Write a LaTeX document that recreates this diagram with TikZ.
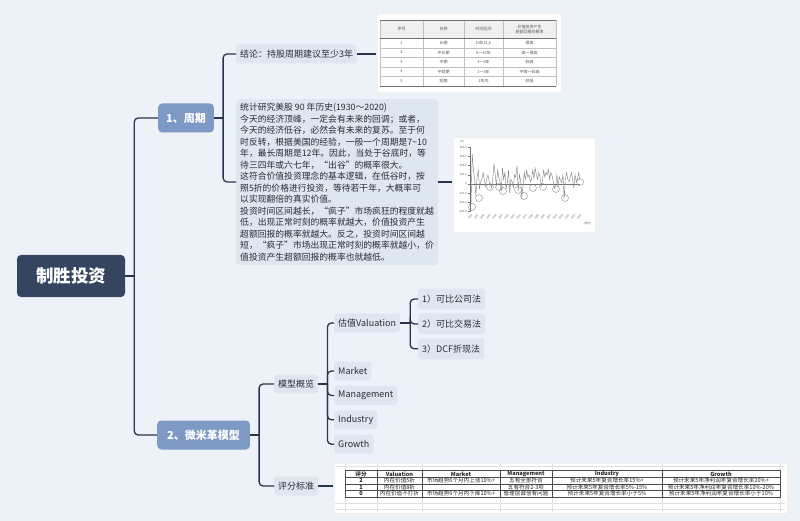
\documentclass[tikz,border=0pt]{standalone}
\usepackage{fontspec}
\setmainfont{Noto Sans CJK SC}
\usetikzlibrary{positioning}
\definecolor{bg1}{RGB}{237,242,249}
\definecolor{navy1}{RGB}{53,69,96}
\definecolor{blu2}{RGB}{125,153,196}
\definecolor{gry1}{RGB}{222,230,240}
\definecolor{ink1}{RGB}{38,44,56}
\definecolor{line1}{RGB}{38,52,77}
\tikzstyle{root} = [rectangle, rounded corners=4pt, fill=navy1, text=white,
    font=\fontsize{17.5}{20}\selectfont\bfseries, minimum width=108pt, minimum height=42pt]
\tikzstyle{topic} = [rectangle, rounded corners=4pt, fill=blu2, text=white,
    font=\fontsize{11}{13}\selectfont\bfseries, minimum height=29pt, inner xsep=8pt]
\tikzstyle{leaf} = [rectangle, rounded corners=3pt, fill=gry1, text=ink1,
    font=\fontsize{9}{11}\selectfont, minimum height=19pt, inner xsep=4pt]
\tikzstyle{imgbox} = [rectangle, rounded corners=2pt, fill=white, draw=gray!12, line width=1.5pt]
\tikzstyle{conn} = [draw=line1, line width=1.3pt, rounded corners=4pt]
\tikzstyle{grid} = [black!35, line width=0.35pt]
\tikzstyle{cell} = [font=\fontsize{4}{5}\selectfont, text=black!65, inner sep=0pt, align=center]
\tikzstyle{xcell} = [font=\fontsize{5.6}{6}\selectfont, text=black!85, inner sep=0pt]
\tikzstyle{axl} = [font=\fontsize{2.8}{3}\selectfont, text=black!60, inner sep=0.5pt]

\begin{document}
\begin{tikzpicture}[x=1pt, y=-1pt, node distance=5pt]
    \useasboundingbox (0,0) rectangle (800,521);
    \fill[bg1] (0,0) rectangle (800,521);

    \node (root) [root] at (71,276) {制胜投资};
    \node (cycle) [topic, anchor=west] at (158,118) {1、周期};
    \node (model) [topic, anchor=west, inner xsep=10pt] at (157,435) {2、微米革模型};

    % 1、周期
    \node (concl) [leaf, anchor=west] at (236,54) {结论：持股周期建议至少3年};
    \node (note) [leaf, anchor=west, align=left, font=\fontsize{8.8}{11.5}\selectfont, inner ysep=4pt] at (236,182)
        {统计研究美股 90 年历史(1930～2020)\\
        今天的经济顶峰，一定会有未来的回调；或者，\\
        今天的经济低谷，必然会有未来的复苏。至于何\\
        时反转，根据美国的经验，一般一个周期是7\textasciitilde 10\\
        年，最长周期是12年。因此，当处于谷底时，等\\
        待三四年或六七年，“出谷”的概率很大。\\
        这符合价值投资理念的基本逻辑，在低谷时，按\\
        照5折的价格进行投资，等待若干年，大概率可\\
        以实现翻倍的真实价值。\\
        投资时间区间越长，“疯子”市场疯狂的程度就越\\
        低，出现正常时刻的概率就越大，价值投资产生\\
        超额回报的概率就越大。反之，投资时间区间越\\
        短，“疯子”市场出现正常时刻的概率就越小，价\\
        值投资产生超额回报的概率也就越低。};
    \node (tabA) [imgbox, anchor=north west, minimum width=185pt, minimum height=79pt] at (376,13) {};
    \node (chart) [imgbox, anchor=north west, minimum width=143pt, minimum height=95pt] at (452,137) {};

    % 2、微米革模型
    \node (overview) [leaf, anchor=west] at (274,384) {模型概览};
    \node (score) [leaf, anchor=west] at (274,486) {评分标准};
    \node (val) [leaf, anchor=west] at (334,323) {估值Valuation};
    \node (mkt) [leaf, anchor=west] at (334,371) {Market};
    \node (mgmt) [leaf, below=5pt of mkt.south west, anchor=north west] {Management};
    \node (ind) [leaf, below=5pt of mgmt.south west, anchor=north west] {Industry};
    \node (grow) [leaf, below=5pt of ind.south west, anchor=north west] {Growth};
    \node (comp) [leaf, anchor=west, minimum height=21pt] at (418,299) {1）可比公司法};
    \node (trans) [leaf, below=3.5pt of comp.south west, anchor=north west, minimum height=21pt] {2）可比交易法};
    \node (dcf) [leaf, below=3.5pt of trans.south west, anchor=north west, minimum height=21pt] {3）DCF折现法};
    \node (tabB) [imgbox, anchor=north west, minimum width=454pt, minimum height=51pt] at (333,462) {};

    % table in 1
    \fill[gray!12] (380,20) rectangle (556,38);
    \foreach \y in {38,48,57,67,76} \draw[grid, black!25] (380,\y) -- (556,\y);
    \foreach \x in {380,423,464,503,556} \draw[grid, black!25] (\x,20) -- (\x,86);
    \draw[black!55, line width=0.6pt] (380,20) -- (556,20) (380,38) -- (556,38) (380,86) -- (556,86);
    \foreach \x/\t in {401.5/序号, 443.5/名称, 483.5/时间区间, 529.5/价值投资产生\\超额回报的概率}
        \node[cell] at (\x,29) {\t};
    \foreach \n/\nm/\tm/\pr [count=\r] in {1/长期/10年以上/很高, 2/中长期/5～10年/高～很高,
        3/中期/3～5年/较高, 4/中短期/1～3年/中等～较高, 5/短期/1年内/较低} {
        \node[cell] at (401.5,{43+(\r-1)*9.5}) {\n};
        \node[cell] at (443.5,{43+(\r-1)*9.5}) {\nm};
        \node[cell] at (483.5,{43+(\r-1)*9.5}) {\tm};
        \node[cell] at (529.5,{43+(\r-1)*9.5}) {\pr};
    }

    % chart in 1
    \draw[black!55, line width=0.4pt] (470,147) -- (470,212) (470,184) -- (580,184);
    \foreach \v/\lab in {800/800.0, 600/600.0, 400/400.0, 200/200.0, 0/0, -200/-200.0, -400/-400.0, -600/-600.0} {
        \draw[black!55, line width=0.3pt] (468,{184-(\v)*0.046}) -- (470,{184-(\v)*0.046});
        \node[axl, anchor=east] at (467.5,{184-(\v)*0.046}) {\lab};
    }
    \node[axl] at (462,142) {(\%)};
    \node[axl, anchor=west] at (583,224) {(年份)};
    \draw[black!50, line width=0.4pt] (471,204.7) \foreach \v [count=\i] in {650,300,100,-250,150,300,-100,50,100,250,80,-50,120,
        200,60,0,-80,100,450,200,-50,300,150,50,-150,350,100,250,-100,20,300,-200,100,50,-80,200,150,400,-150,
        200,80,-280,-50,250,100,300,150,200,50,100,300,120,350,200,100,250,150,-50,80,300,150,250,200,320,100,
        250,180,50,-100,-50,200,-60,150,80,30,200,-320,120,250,100,50,150,250,80,-80,200,50,100,250,80}
        { -- ({471+\i*1.21},{184-(\v)*0.046}) };
    \foreach \cx/\cy in {472/207, 479/198, 490/187, 499/187, 503/191, 518/190, 524/196, 533/188, 543/187, 556/189, 565/198, 580/182}
        \draw[black!50, line width=0.35pt] (\cx,\cy) circle (3.5pt);
    \foreach \yr in {1930,1935,...,2020}
        \node[axl, rotate=55, anchor=north east, font=\fontsize{2.6}{3}\selectfont] at ({471+(\yr-1930)*1.21},213) {\yr};

    % table in 2
    \foreach \x in {345,377,422,500,552,662,780} \draw[grid, black!12] (\x,463) -- (\x,512);
    \foreach \y in {466,503,509} \draw[grid, black!12] (335,\y) -- (785,\y);
    \draw[black!70, line width=0.45pt] (345,470.5) rectangle (780,497);
    \foreach \y in {477.5,484,490.5} \draw[black!70, line width=0.45pt] (345,\y) -- (780,\y);
    \foreach \x in {377,422,500,552,662} \draw[black!70, line width=0.45pt] (\x,470.5) -- (\x,497);
    \foreach \x/\t in {361/评分, 399.5/Valuation, 461/Market, 526/Management, 607/Industry, 721/Growth}
        \node[xcell, font=\fontsize{5.6}{6}\selectfont\bfseries] at (\x,474) {\t};
    \foreach \s/\va/\ma/\mg/\id/\gr [count=\r] in {
        2/内在价值5折/市场趋势6个月内上涨10\%+/五有全部符合/预计未来5年复合增长率15\%+/预计未来5年净利润年复合增长率20\%+,
        1/内在价值8折/ /五有符合2-3项/预计未来5年复合增长率5\%-15\%/预计未来5年净利润年复合增长率10\%-20\%,
        0/内在价值不打折/市场趋势6个月内下降10\%+/管理层诚信有问题/预计未来5年复合增长率小于5\%/预计未来5年净利润年复合增长率小于10\%} {
        \node[xcell, font=\fontsize{5.6}{6}\selectfont\bfseries] at (361,{474+\r*6.5}) {\s};
        \node[xcell] at (399.5,{474+\r*6.5}) {\va};
        \node[xcell] at (461,{474+\r*6.5}) {\ma};
        \node[xcell] at (526,{474+\r*6.5}) {\mg};
        \node[xcell] at (607,{474+\r*6.5}) {\id};
        \node[xcell] at (721,{474+\r*6.5}) {\gr};
    }

    % Connectors
    \draw [conn] (root.east) -- ++(9,0) coordinate (f0);
    \draw [conn] (f0) |- (cycle.west);
    \draw [conn] (f0) |- (model.west);
    \draw [conn] (cycle.east) -- ++(9,0) coordinate (f1);
    \draw [conn] (f1) |- (concl.west);
    \draw [conn] (f1) |- (note.west);
    \draw [conn] (concl.east) -- (concl.east -| tabA.west);
    \draw [conn] (note.east) -- (note.east -| chart.west);
    \draw [conn] (model.east) -- ++(9,0) coordinate (f2);
    \draw [conn] (f2) |- (overview.west);
    \draw [conn] (f2) |- (score.west);
    \draw [conn] (score.east) -- (score.east -| tabB.west);
    \draw [conn] (overview.east) -- ++(9,0) coordinate (f3);
    \foreach \c in {val, mkt, mgmt, ind, grow} \draw [conn] (f3) |- (\c.west);
    \draw [conn] (val.east) -- ++(10,0) coordinate (f4);
    \foreach \c in {comp, trans, dcf} \draw [conn] (f4) |- (\c.west);
\end{tikzpicture}
\end{document}
